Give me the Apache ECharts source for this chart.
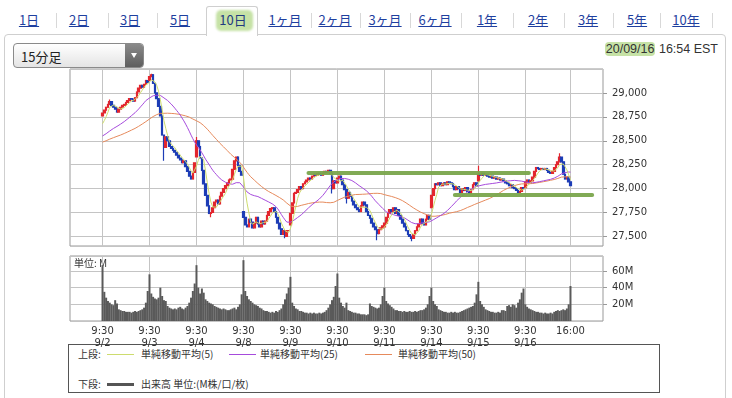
<!DOCTYPE html>
<html>
<head>
<meta charset="UTF-8">
<title>10日 15分足</title>
<script src="https://cdn.jsdelivr.net/npm/echarts@6/dist/echarts.min.js"></script>
<style>
  body { margin: 0; width: 732px; height: 398px; overflow: hidden; background: #fff;
         font-family: "Noto Sans CJK JP", "Liberation Sans", sans-serif; position: relative; }
  .tab { position: absolute; top: 11px; font-size: 13px; color: #1f3f9f; text-decoration: underline;
         transform: translateX(-50%); white-space: nowrap; line-height: 18px; }
  .sep { position: absolute; top: 13px; width: 1px; height: 15px; background: #d8d8d8; }
  #panel { position: absolute; left: 4px; top: 34px; width: 720px; height: 380px;
           border: 1px solid #cfcfcf; border-radius: 4px; }
  #seltab { position: absolute; left: 206px; top: 6px; width: 50px; height: 29px; background: #fff;
            border: 1px solid #cfcfcf; border-bottom: none; border-radius: 3px 3px 0 0; }
  #selmark { position: absolute; left: 216px; top: 10px; width: 37px; height: 21px;
             background: #c6e2a6; border-radius: 5px; filter: blur(1px); }
  #dd { position: absolute; left: 13px; top: 43px; width: 129px; height: 23px; border: 1px solid #8a8a8a;
        border-radius: 4px; background: linear-gradient(#ffffff, #e4e4e4); overflow: hidden; }
  #dd span { position: absolute; left: 7px; top: 3px; font-size: 13px; color: #222; }
  #dd i { position: absolute; right: 0; top: 0; width: 18px; height: 23px; background: linear-gradient(#8a8a8a, #5e5e5e); }
  #dd i:after { content: ""; position: absolute; left: 6px; top: 9px; border-left: 3px solid transparent;
                border-right: 3px solid transparent; border-top: 5px solid #fff; }
  #stamp { position: absolute; right: 14px; top: 40px; font-family: "Liberation Sans", sans-serif;
           font-size: 12.5px; color: #333; line-height: 18px; }
  #stamp b { font-weight: normal; background: #c6e2a6; border-radius: 4px; padding: 0 1px; }
  #legend { position: absolute; left: 68px; top: 344px; width: 590px; height: 47px; border: 1px solid #555; }
  .lg { position: absolute; font-size: 10px; color: #333; line-height: 12px; white-space: nowrap; }
  .ln { position: absolute; height: 1px; width: 27px; }
  #chart { position: absolute; left: 0; top: 0; width: 732px; height: 398px; }
</style>
</head>
<body>
  <div id="panel"></div>
  <div id="seltab"></div>
  <div id="selmark"></div>

  <div class="tab" style="left:29px">1日</div>
  <div class="sep" style="left:56px"></div>
  <div class="tab" style="left:79px">2日</div>
  <div class="sep" style="left:108px"></div>
  <div class="tab" style="left:130px">3日</div>
  <div class="sep" style="left:157px"></div>
  <div class="tab" style="left:180px">5日</div>
  <div class="tab" style="left:233px;text-decoration:none;color:#223a80">10日</div>
  <div class="tab" style="left:285px">1ヶ月</div>
  <div class="sep" style="left:311px"></div>
  <div class="tab" style="left:335px">2ヶ月</div>
  <div class="sep" style="left:360px"></div>
  <div class="tab" style="left:385px">3ヶ月</div>
  <div class="sep" style="left:410px"></div>
  <div class="tab" style="left:435px">6ヶ月</div>
  <div class="sep" style="left:461px"></div>
  <div class="tab" style="left:487px">1年</div>
  <div class="sep" style="left:513px"></div>
  <div class="tab" style="left:538px">2年</div>
  <div class="sep" style="left:564px"></div>
  <div class="tab" style="left:588px">3年</div>
  <div class="sep" style="left:613px"></div>
  <div class="tab" style="left:637px">5年</div>
  <div class="sep" style="left:660px"></div>
  <div class="tab" style="left:686px">10年</div>
  <div class="sep" style="left:712px"></div>

  <div id="dd"><span>15分足</span><i></i></div>
  <div id="stamp"><b>20/09/16</b> 16:54 EST</div>

  <div id="legend">
    <div class="lg" style="left:9px;top:3px">上段:</div>
    <div class="ln" style="left:38px;top:9px;background:#cddc6e"></div>
    <div class="lg" style="left:72px;top:3px">単純移動平均(5)</div>
    <div class="ln" style="left:160px;top:9px;background:#a64bdc"></div>
    <div class="lg" style="left:191px;top:3px">単純移動平均(25)</div>
    <div class="ln" style="left:296px;top:9px;background:#e68a5c"></div>
    <div class="lg" style="left:329px;top:3px">単純移動平均(50)</div>
    <div class="lg" style="left:9px;top:33px">下段:</div>
    <div class="ln" style="left:38px;top:38px;height:3px;background:#555"></div>
    <div class="lg" style="left:72px;top:33px">出来高 単位:(M株/口/枚)</div>
  </div>

  <div id="chart"></div>

<script type="text/javascript">
// 日付と15分足の時刻
const days = ['9/2', '9/3', '9/4', '9/8', '9/9', '9/10', '9/11', '9/14', '9/15', '9/16'];
const times = ['9:30', '9:45', '10:00', '10:15', '10:30', '10:45', '11:00', '11:15', '11:30', '11:45',
  '12:00', '12:15', '12:30', '12:45', '13:00', '13:15', '13:30', '13:45', '14:00', '14:15',
  '14:30', '14:45', '15:00', '15:15', '15:30', '15:45'];

// 軸の目盛ラベル (足の番号と対応)
const tickLabels = ['9:30\n9/2', '9:30\n9/3', '9:30\n9/4', '9:30\n9/8', '9:30\n9/9', '9:30\n9/10',
  '9:30\n9/11', '9:30\n9/14', '9:30\n9/15', '9:30\n9/16', '16:00'];
const tickBars = [0, 26, 52, 78, 104, 130, 156, 182, 208, 234, 259];

// 各日の始値
const dayOpens = [28760, 29130, 28330, 27760, 27620, 28060, 27600, 27800, 28080, 28010];

// 終値 (1日26本)
const closes = [
  28790, 28820, 28850, 28880, 28910, 28870, 28850, 28830, 28800, 28830, 28850, 28870, 28880, 28900, 28920, 28940, 28935, 28915, 28950, 29010, 29050, 29080, 29060, 29090, 29130, 29110,
  29170, 29190, 29100, 29000, 28940, 28860, 28760, 28560, 28430, 28540, 28500, 28440, 28420, 28400, 28380, 28350, 28320, 28300, 28270, 28290, 28230, 28180, 28130, 28100, 28170, 28270,
  28500, 28440, 28320, 28190, 28050, 27930, 27820, 27740, 27750, 27800, 27860, 27880, 27840, 27920, 27960, 28000, 28030, 28060, 28090, 28100, 28200, 28290, 28330, 28240, 28180, 28140,
  27700, 27620, 27600, 27680, 27650, 27590, 27640, 27700, 27630, 27600, 27660, 27630, 27660, 27720, 27760, 27790, 27800, 27760, 27700, 27640, 27580, 27520, 27560, 27500, 27560, 27560,
  27740, 27850, 27950, 27960, 27990, 28020, 28000, 28050, 28070, 28090, 28110, 28100, 28130, 28150, 28140, 28160, 28150, 28140, 28160, 28180, 28170, 28190, 28160, 28000, 28080, 28060,
  28110, 28130, 28090, 28040, 27990, 27900, 27960, 27920, 27870, 27830, 27800, 27780, 27760, 27820, 27860, 27830, 27760, 27720, 27690, 27640, 27600, 27570, 27530, 27570, 27590, 27610,
  27640, 27700, 27740, 27780, 27760, 27800, 27740, 27780, 27720, 27680, 27640, 27600, 27560, 27520, 27500, 27480, 27520, 27560, 27600, 27630, 27680, 27640, 27620, 27680, 27720, 27680,
  27930, 28000, 28050, 28040, 28060, 28030, 28050, 28060, 28040, 28070, 28060, 28050, 28020, 27990, 28020, 28000, 27960, 28000, 27980, 28010, 27970, 27950, 27990, 28040, 28060, 28030,
  28150, 28140, 28160, 28140, 28150, 28130, 28120, 28130, 28110, 28120, 28100, 28110, 28090, 28100, 28080, 28060, 28050, 28030, 28040, 28010, 28000, 27980, 27960, 27970, 28010, 28000,
  28070, 28090, 28060, 28080, 28120, 28180, 28220, 28210, 28200, 28210, 28200, 28210, 28190, 28170, 28160, 28180, 28220, 28250, 28280, 28330, 28280, 28150, 28100, 28120, 28070, 28030
];

// ヒゲが目立つ足 [日, 本目, 高値, 安値]
const spikes = [
  [0, 4, 28930, null], [1, 1, 29200, null], [1, 8, null, 28290], [2, 0, 28540, null], [2, 8, null, 27700],
  [3, 23, null, 27480], [4, 23, null, 27950], [5, 5, null, 27845], [5, 22, null, 27460],
  [6, 15, null, 27450], [8, 0, 28240, null], [9, 19, 28370, null]
];

// 出来高 (M)
const volumes = [
  67, 35, 28, 24, 22, 20, 19, 25, 21, 14, 13, 12, 12, 11, 11, 11, 10, 11, 12, 11, 12, 13, 14, 16, 22, 36,
  56, 33, 29, 27, 26, 28, 40, 30, 25, 24, 18, 16, 15, 14, 15, 14, 16, 17, 15, 14, 16, 18, 22, 28, 36, 45,
  67, 40, 33, 39, 34, 26, 24, 22, 21, 20, 18, 17, 16, 15, 14, 15, 14, 13, 13, 14, 15, 16, 14, 17, 20, 32,
  73, 36, 30, 26, 24, 22, 20, 19, 18, 16, 15, 13, 12, 12, 11, 10, 11, 10, 12, 11, 13, 15, 20, 26, 33, 40,
  53, 22, 18, 15, 14, 12, 12, 11, 10, 10, 9, 10, 9, 10, 9, 9, 10, 9, 10, 11, 13, 16, 20, 25, 29, 42,
  57, 28, 22, 18, 16, 22, 13, 12, 11, 10, 10, 9, 9, 8, 8, 8, 7, 8, 21, 18, 17, 16, 15, 16, 20, 30,
  40, 24, 21, 19, 17, 15, 13, 13, 12, 12, 11, 12, 11, 11, 12, 11, 11, 12, 11, 12, 13, 13, 14, 16, 20, 30,
  40, 24, 20, 18, 14, 13, 12, 11, 11, 10, 10, 11, 10, 11, 10, 10, 11, 12, 13, 14, 15, 16, 17, 18, 22, 32,
  47, 24, 20, 17, 14, 13, 12, 11, 11, 10, 10, 11, 10, 13, 13, 12, 18, 19, 17, 20, 19, 16, 22, 26, 34, 39,
  20, 17, 15, 14, 13, 12, 11, 11, 10, 10, 9, 10, 9, 9, 10, 9, 11, 12, 13, 12, 13, 14, 13, 15, 20, 42
];

// 移動平均の期間と、表示開始時点の水準 (前日分のかわり)
const maPeriods = [5, 25, 50];
const maSeeds = [28650, 28540, 28480];
const maNames = ['単純移動平均(5)', '単純移動平均(25)', '単純移動平均(50)'];

// 手書きの水平線 [開始足, 値, 終了足, 値]
const trendLines = [[114, 28170, 236, 28170], [195, 27935, 271, 27935]];

(function () {
  const PAD_L = 18, PAD_R = 18;
  const perDay = times.length;

  // カテゴリ (左右に空き)
  const cats = [];
  for (let i = 0; i < PAD_L; i++) cats.push('L' + i);
  days.forEach(function (d) { times.forEach(function (t) { cats.push(d + ' ' + t); }); });
  for (let i = 0; i < PAD_R; i++) cats.push('R' + i);

  const labelMap = {};
  tickBars.forEach(function (b, i) { labelMap[cats[b + PAD_L]] = tickLabels[i]; });
  const isTick = function (idx) { return labelMap[cats[idx]] !== undefined; };

  // ローソク足 [x, 始値, 終値, 安値, 高値]
  const candles = closes.map(function (c, i) {
    const o = i % perDay === 0 ? dayOpens[i / perDay] : closes[i - 1];
    return [i + PAD_L, o, c, Math.min(o, c), Math.max(o, c)];
  });
  spikes.forEach(function (s) {
    const row = candles[s[0] * perDay + s[1]];
    if (s[2] != null) row[4] = s[2];
    if (s[3] != null) row[3] = s[3];
  });

  function sma(n, seed) {
    return closes.map(function (c, i) {
      let s = 0;
      for (let j = i - n + 1; j <= i; j++) s += j >= 0 ? closes[j] : seed;
      return [i + PAD_L, Math.round(s / n)];
    });
  }

  const volData = volumes.map(function (v, i) { return [i + PAD_L, v]; });
  const maColors = ['#cddc6e', '#a64bdc', '#e68a5c'];

  const axisFont = { fontFamily: 'DejaVu Sans', fontSize: 10, color: '#333' };

  const myChart = echarts.init(document.getElementById('chart'));
  const option = {
    animation: false,
    graphic: [{
      type: 'text', left: 74, top: 258,
      style: { text: '単位: M', font: '10px "Noto Sans CJK JP"', fill: '#333' }
    }],
    grid: [
      { left: 70, top: 69, width: 533, height: 177, show: true, borderColor: '#999', borderWidth: 1 },
      { left: 70, top: 256, width: 533, height: 65, show: true, borderColor: '#999', borderWidth: 1 }
    ],
    xAxis: [
      {
        type: 'category', gridIndex: 0, data: cats, boundaryGap: false,
        axisLine: { show: false }, axisTick: { show: false }, axisLabel: { show: false },
        splitLine: { show: true, interval: isTick, lineStyle: { color: '#c4c4c4' } }
      },
      {
        type: 'category', gridIndex: 1, data: cats, boundaryGap: false,
        axisLine: { show: false }, axisTick: { show: false },
        axisLabel: Object.assign({
          interval: isTick, margin: 4, lineHeight: 12,
          formatter: function (v) { return labelMap[v] || ''; }
        }, axisFont),
        splitLine: { show: true, interval: isTick, lineStyle: { color: '#c4c4c4' } }
      }
    ],
    yAxis: [
      {
        type: 'value', gridIndex: 0, position: 'right', min: 27400, max: 29250,
        minInterval: 250, maxInterval: 250, scale: true,
        axisLine: { show: false },
        axisTick: { show: true, length: 4, lineStyle: { color: '#999' } },
        axisLabel: Object.assign({ margin: 9, showMinLabel: false, showMaxLabel: false,
          formatter: function (v) { return v.toLocaleString('en-US'); } }, axisFont),
        splitLine: { lineStyle: { color: '#c4c4c4' } }
      },
      {
        type: 'value', gridIndex: 1, position: 'right', min: 0, max: 78,
        minInterval: 20, maxInterval: 20,
        axisLine: { show: false },
        axisTick: { show: true, length: 4, lineStyle: { color: '#999' } },
        axisLabel: Object.assign({ margin: 9, showMinLabel: false, showMaxLabel: false,
          formatter: function (v) { return v + 'M'; } }, axisFont),
        splitLine: { lineStyle: { color: '#c4c4c4' } }
      }
    ],
    series: [
      {
        type: 'candlestick', name: '15分足', xAxisIndex: 0, yAxisIndex: 0,
        data: candles, encode: { x: 0, y: [1, 2, 3, 4] }, barWidth: 2.2,
        itemStyle: { color: '#e3262e', color0: '#1d3db6', borderColor: '#e3262e', borderColor0: '#1d3db6', borderWidth: 1.2 }
      },
      {
        type: 'line', name: maNames[2], xAxisIndex: 0, yAxisIndex: 0, data: sma(maPeriods[2], maSeeds[2]),
        showSymbol: false, lineStyle: { width: 1, color: maColors[2] }
      },
      {
        type: 'line', name: maNames[1], xAxisIndex: 0, yAxisIndex: 0, data: sma(maPeriods[1], maSeeds[1]),
        showSymbol: false, lineStyle: { width: 1, color: maColors[1] }
      },
      {
        type: 'line', name: maNames[0], xAxisIndex: 0, yAxisIndex: 0, data: sma(maPeriods[0], maSeeds[0]),
        showSymbol: false, lineStyle: { width: 1, color: maColors[0] },
        markLine: {
          silent: true, symbol: ['none', 'none'], label: { show: false },
          lineStyle: { color: '#7aa54c', width: 4, type: 'solid', cap: 'round', opacity: 0.95 },
          data: trendLines.map(function (t) {
            return [{ coord: [t[0] + PAD_L, t[1]] }, { coord: [t[2] + PAD_L, t[3]] }];
          })
        }
      },
      {
        type: 'bar', name: '出来高', xAxisIndex: 1, yAxisIndex: 1, data: volData,
        barWidth: 2, itemStyle: { color: '#5a5a5a' }
      }
    ]
  };
  myChart.setOption(option);
})();
</script>
</body>
</html>
